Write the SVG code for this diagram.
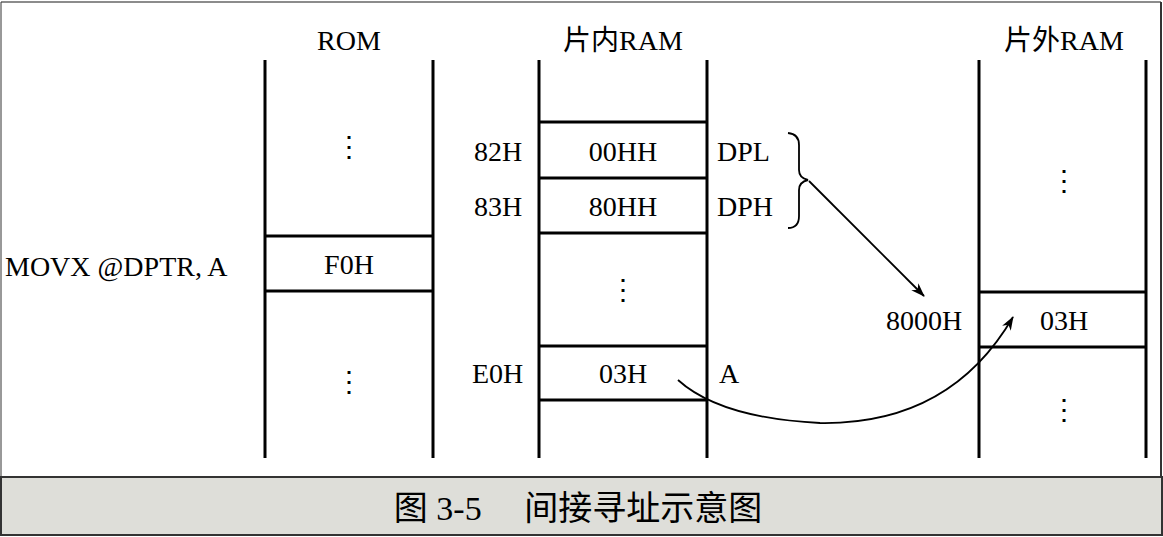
<svg xmlns="http://www.w3.org/2000/svg" width="1163" height="537" viewBox="0 0 1163 537">
<style>
.l{stroke:#000;stroke-width:3;fill:none}
.t{font-family:"Liberation Serif","Noto Sans CJK SC",serif;font-size:28px;fill:#000}
.c{font-family:"Liberation Serif","Noto Sans CJK SC",serif;font-size:28px;fill:#000;text-anchor:middle}
.cap{font-family:"Liberation Serif","Noto Sans CJK SC",serif;font-size:34px;fill:#000;text-anchor:middle}
.th{stroke:#000;stroke-width:1.8;fill:none}
</style>
<defs><marker id="ah" markerWidth="14" markerHeight="10" refX="13" refY="5" orient="auto" markerUnits="userSpaceOnUse"><path d="M0,0 L14,5 L0,10 L4,5 z" fill="#000"/></marker></defs>
<rect x="0" y="0" width="1163" height="537" fill="#fff"/>
<rect x="1" y="477" width="1161" height="58" fill="#deded9" stroke="#333" stroke-width="2"/>
<line x1="1" y1="2" x2="1161" y2="2" stroke="#666" stroke-width="1.5"/>
<line x1="1161" y1="2" x2="1161" y2="477" stroke="#333" stroke-width="2"/>
<line x1="1" y1="2" x2="1" y2="477" stroke="#333" stroke-width="1"/>
<text x="578" y="520" class="cap">图 3-5　 间接寻址示意图</text>
<g id="rom">
<path class="l" d="M265,60V458M433,60V458M265,236H433M265,291H433"/>
<text x="349" y="50" class="c">ROM</text>
<text x="349" y="156" class="c">⋮</text>
<text x="349" y="274" class="c">F0H</text>
<text x="349" y="391" class="c">⋮</text>
<text x="5" y="276" class="t">MOVX @DPTR, A</text>
</g>
<g id="iram">
<path class="l" d="M539,60V458M707,60V458M539,122H707M539,178H707M539,233H707M539,346H707M539,400H707"/>
<text x="623" y="50" class="c">片内RAM</text>
<text x="623" y="161" class="c">00HH</text>
<text x="623" y="216" class="c">80HH</text>
<text x="623" y="299" class="c">⋮</text>
<text x="623" y="383" class="c">03H</text>
<text x="474" y="161" class="t">82H</text>
<text x="474" y="216" class="t">83H</text>
<text x="472" y="383" class="t">E0H</text>
<text x="717" y="161" class="t">DPL</text>
<text x="717" y="216" class="t">DPH</text>
<text x="719" y="383" class="t">A</text>
</g>
<g id="xram">
<path class="l" d="M979,60V458M1146,60V458M979,292H1146M979,347H1146"/>
<text x="1064" y="50" class="c">片外RAM</text>
<text x="1064" y="190" class="c">⋮</text>
<text x="1064" y="330" class="c">03H</text>
<text x="1064" y="419" class="c">⋮</text>
<text x="886" y="330" class="t">8000H</text>
</g>
<g id="connectors">
<path class="th" d="M788,133 Q799,134 799,145 V170 Q799,178 808,180 Q799,182 799,190 V216 Q799,228 788,228"/>
<path class="th" d="M809,181 L924,296" marker-end="url(#ah)"/>
<path class="th" d="M678,380 Q720,418 820,423 Q950,425 1013,317" marker-end="url(#ah)"/>
</g>
</svg>
